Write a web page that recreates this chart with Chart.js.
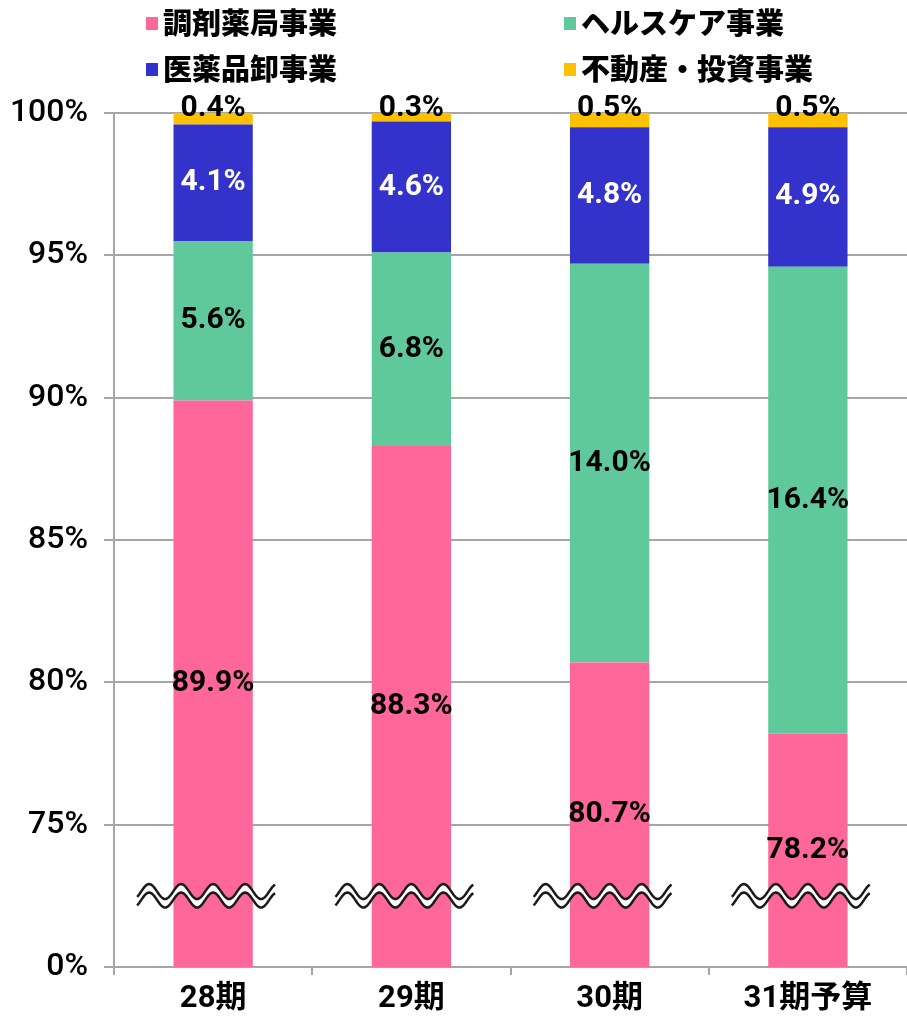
<!DOCTYPE html>
<html>
<head>
<meta charset="utf-8">
<script src="https://cdn.jsdelivr.net/npm/chart.js@4"></script>
<style>
html, body { margin: 0; padding: 0; background: #fff; }
#wrap { width: 907px; height: 1023px; position: relative; }
</style>
</head>
<body>
<div id="wrap"><canvas id="chart"></canvas></div>
<script>
const periods = ["28期", "29期", "30期", "31期予算"];
const pharmacy = [89.9, 88.3, 80.7, 78.2];
const healthcare = [5.6, 6.8, 14.0, 16.4];
const wholesale = [4.1, 4.6, 4.8, 4.9];
const realEstate = [0.4, 0.3, 0.5, 0.5];
const seriesNames = ["調剤薬局事業", "ヘルスケア事業", "医薬品卸事業", "不動産・投資事業"];
const seriesColors = ["#FF6699", "#5FC99C", "#3333CC", "#FFC000"];
const labelColors = ["#000", "#000", "#fff", "#000"];
// the axis is broken: 70 on the scale is drawn as "0%"
const axisMin = 70;
const breakValue = 72.5;

function drawBreak(ctx, cx, cy) {
    const period = 32, amp = 7.5, gap = 8.5;
    const x0 = cx - 76, x1 = cx + 62;
    const wave = (x, off) => cy + off - amp * Math.cos(2 * Math.PI * (x - cx) / period);
    ctx.beginPath();
    for (let x = x0; x <= x1; x++) ctx.lineTo(x, wave(x, -gap / 2));
    for (let x = x1; x >= x0; x--) ctx.lineTo(x, wave(x, gap / 2));
    ctx.closePath();
    ctx.fillStyle = "#fff";
    ctx.fill();
    ctx.strokeStyle = "#1a1a1a";
    ctx.lineWidth = 2.5;
    [-gap / 2, gap / 2].forEach(off => {
        ctx.beginPath();
        for (let x = x0; x <= x1; x++) ctx.lineTo(x, wave(x, off));
        ctx.stroke();
    });
}

const barLabels = {
    id: "barLabels",
    afterDatasetsDraw(chart) {
        const ctx = chart.ctx;
        const area = chart.chartArea;
        const yScale = chart.scales.y;
        ctx.save();
        const breakY = yScale.getPixelForValue(breakValue);
        chart.getDatasetMeta(0).data.forEach(bar => drawBreak(ctx, bar.x, breakY));

        ctx.textAlign = "center";
        ctx.textBaseline = "middle";
        ctx.font = "bold 30px Roboto, 'Liberation Sans', sans-serif";
        chart.data.datasets.forEach((ds, i) => {
            chart.getDatasetMeta(i).data.forEach((bar, j) => {
                const text = ds.data[j].toFixed(1) + "%";
                const bottom = Math.min(bar.base, area.bottom);
                let cy = (bottom + bar.y) / 2;
                if (i === 3) cy = bar.y - 5;
                ctx.fillStyle = labelColors[i];
                ctx.fillText(text, bar.x, cy);
            });
        });

        // legend, two columns
        const cols = [146, 564], rows = [23, 69];
        ctx.textAlign = "left";
        ctx.font = "900 29px 'Noto Sans CJK JP', sans-serif";
        seriesNames.forEach((name, i) => {
            const x = cols[i % 2], y = rows[Math.floor(i / 2)];
            ctx.fillStyle = seriesColors[i];
            ctx.fillRect(x, y - 6, 12, 13);
            ctx.fillStyle = "#000";
            ctx.fillText(name, x + 17, y);
        });
        ctx.restore();
    }
};

const chart = new Chart(document.getElementById("chart"), {
    type: "bar",
    data: {
        labels: periods,
        datasets: [pharmacy, healthcare, wholesale, realEstate].map((values, i) => ({
            label: seriesNames[i],
            data: values,
            backgroundColor: seriesColors[i],
            borderWidth: 0,
            barPercentage: 0.8,
            categoryPercentage: 0.5
        }))
    },
    options: {
        responsive: true,
        maintainAspectRatio: false,
        animation: false,
        layout: { padding: { top: 113, right: 0, bottom: 0, left: 0 } },
        plugins: {
            legend: { display: false },
            tooltip: { enabled: false }
        },
        scales: {
            x: {
                stacked: true,
                afterFit: scale => { scale.height = 56; },
                grid: { display: true, drawOnChartArea: false, offset: true, tickLength: 8, color: "#a6a6a6", lineWidth: 2 },
                border: { color: "#a6a6a6", width: 2 },
                ticks: {
                    color: "#000",
                    padding: 6,
                    font: { family: "Roboto, 'Noto Sans CJK JP', sans-serif", size: 31, weight: "bold" }
                }
            },
            y: {
                stacked: true,
                min: axisMin,
                max: 100,
                afterFit: scale => { scale.width = 114; },
                grid: { color: "#a6a6a6", lineWidth: 2, tickLength: 10 },
                border: { color: "#a6a6a6", width: 2 },
                ticks: {
                    stepSize: 5,
                    color: "#000",
                    padding: 16,
                    font: { family: "Roboto, 'Liberation Sans', sans-serif", size: 32, weight: "500" },
                    callback: v => (v === axisMin ? "0%" : v + "%")
                }
            }
        }
    },
    plugins: [barLabels]
});
</script>
</body>
</html>
